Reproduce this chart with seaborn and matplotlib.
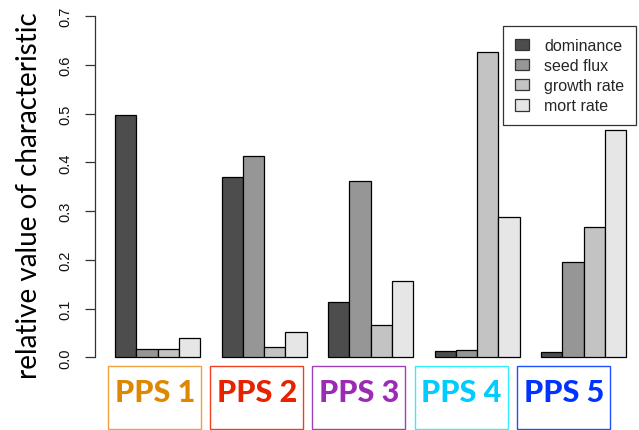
import numpy as np
import pandas as pd
import matplotlib
matplotlib.use("Agg")
import matplotlib.pyplot as plt
from matplotlib.patches import Patch, Rectangle
import seaborn as sns

# values
groups = ["PPS 1", "PPS 2", "PPS 3", "PPS 4", "PPS 5"]
series = ["dominance", "seed flux", "growth rate", "mort rate"]
dominance = [0.497, 0.369, 0.113, 0.013, 0.011]
seed_flux = [0.017, 0.414, 0.361, 0.015, 0.196]
growth_rate = [0.018, 0.022, 0.066, 0.627, 0.268]
mort_rate = [0.040, 0.051, 0.156, 0.288, 0.466]
yticks = [0.0, 0.1, 0.2, 0.3, 0.4, 0.5, 0.6, 0.7]

bar_cols = ["#4D4D4D", "#969696", "#C3C3C3", "#E6E6E6"]
pps_cols = ["#DD8800", "#E62200", "#9B2BB5", "#00CCFF", "#0033FF"]
box_cols = ["#EFA040", "#F04020", "#A040B8", "#30F0FF", "#2050FF"]

d = pd.DataFrame({"group": np.repeat(groups, 4),
                  "kind": series * 5,
                  "value": np.array([dominance, seed_flux, growth_rate, mort_rate]).T.ravel()})

sns.set_style("white")
plt.rcParams["font.family"] = ["Liberation Sans", "DejaVu Sans"]

W, H = 639, 431
fig = plt.figure(figsize=(W / 100, H / 100), dpi=100)
# plot region in pixels: left 95, right 639, top 0, bottom 372
ax = fig.add_axes([95 / W, (H - 372) / H, (W - 95) / W, 372 / H])

sns.barplot(data=d, x="group", y="value", hue="kind", palette=bar_cols,
            saturation=1, width=0.8, edgecolor="black", linewidth=0.9,
            legend=False, ax=ax)

ax.set_xlim(-0.588, 4.52)
ax.set_ylim(-0.028, 0.735)
for s in ["top", "right", "bottom"]:
    ax.spines[s].set_visible(False)
ax.spines["left"].set_bounds(0, 0.7)
ax.spines["left"].set_color("#333333")
ax.spines["left"].set_linewidth(0.9)
ax.set_xticks([])
ax.set_xlabel("")
ax.set_ylabel("")
ax.set_yticks(yticks)
ax.tick_params(axis="y", length=7, width=0.9, color="#333333", pad=9, left=True)
ax.set_yticklabels(["%.1f" % v for v in yticks], rotation=90, va="center",
                   fontsize=10.5, color="#111111", family="Liberation Sans")

fig.text(29 / W, 1 - 196 / H, "relative value of characteristic",
         family=["Lato", "DejaVu Sans"], fontsize=20, rotation=90,
         ha="center", va="center", color="black")

handles = [Patch(facecolor=c, edgecolor="#333333", linewidth=0.9) for c in bar_cols]
leg = ax.legend(handles, series, loc="upper right",
                bbox_to_anchor=(636 / W, 1 - 27 / H), bbox_transform=fig.transFigure,
                borderaxespad=0, fancybox=False, frameon=True, fontsize=11.5,
                handlelength=0.85, handleheight=0.75, handletextpad=0.95,
                labelspacing=0.32, borderpad=0.75)
leg.get_frame().set_edgecolor("black")
leg.get_frame().set_linewidth(0.9)

# coloured label boxes under the groups
for i, (g, tc, bc) in enumerate(zip(groups, pps_cols, box_cols)):
    x0 = 108 + 102.2 * i
    fig.patches.append(Rectangle((x0 / W, 1 / H), 93 / W, 63 / H,
                                 transform=fig.transFigure, fill=False,
                                 edgecolor=bc, linewidth=1.0))
    fig.text((x0 + 47) / W, 1 - 393 / H, g, family=["Lato", "DejaVu Sans"],
             weight="black", fontsize=22, color=tc, ha="center", va="center")

fig.savefig("out.png", dpi=100)
